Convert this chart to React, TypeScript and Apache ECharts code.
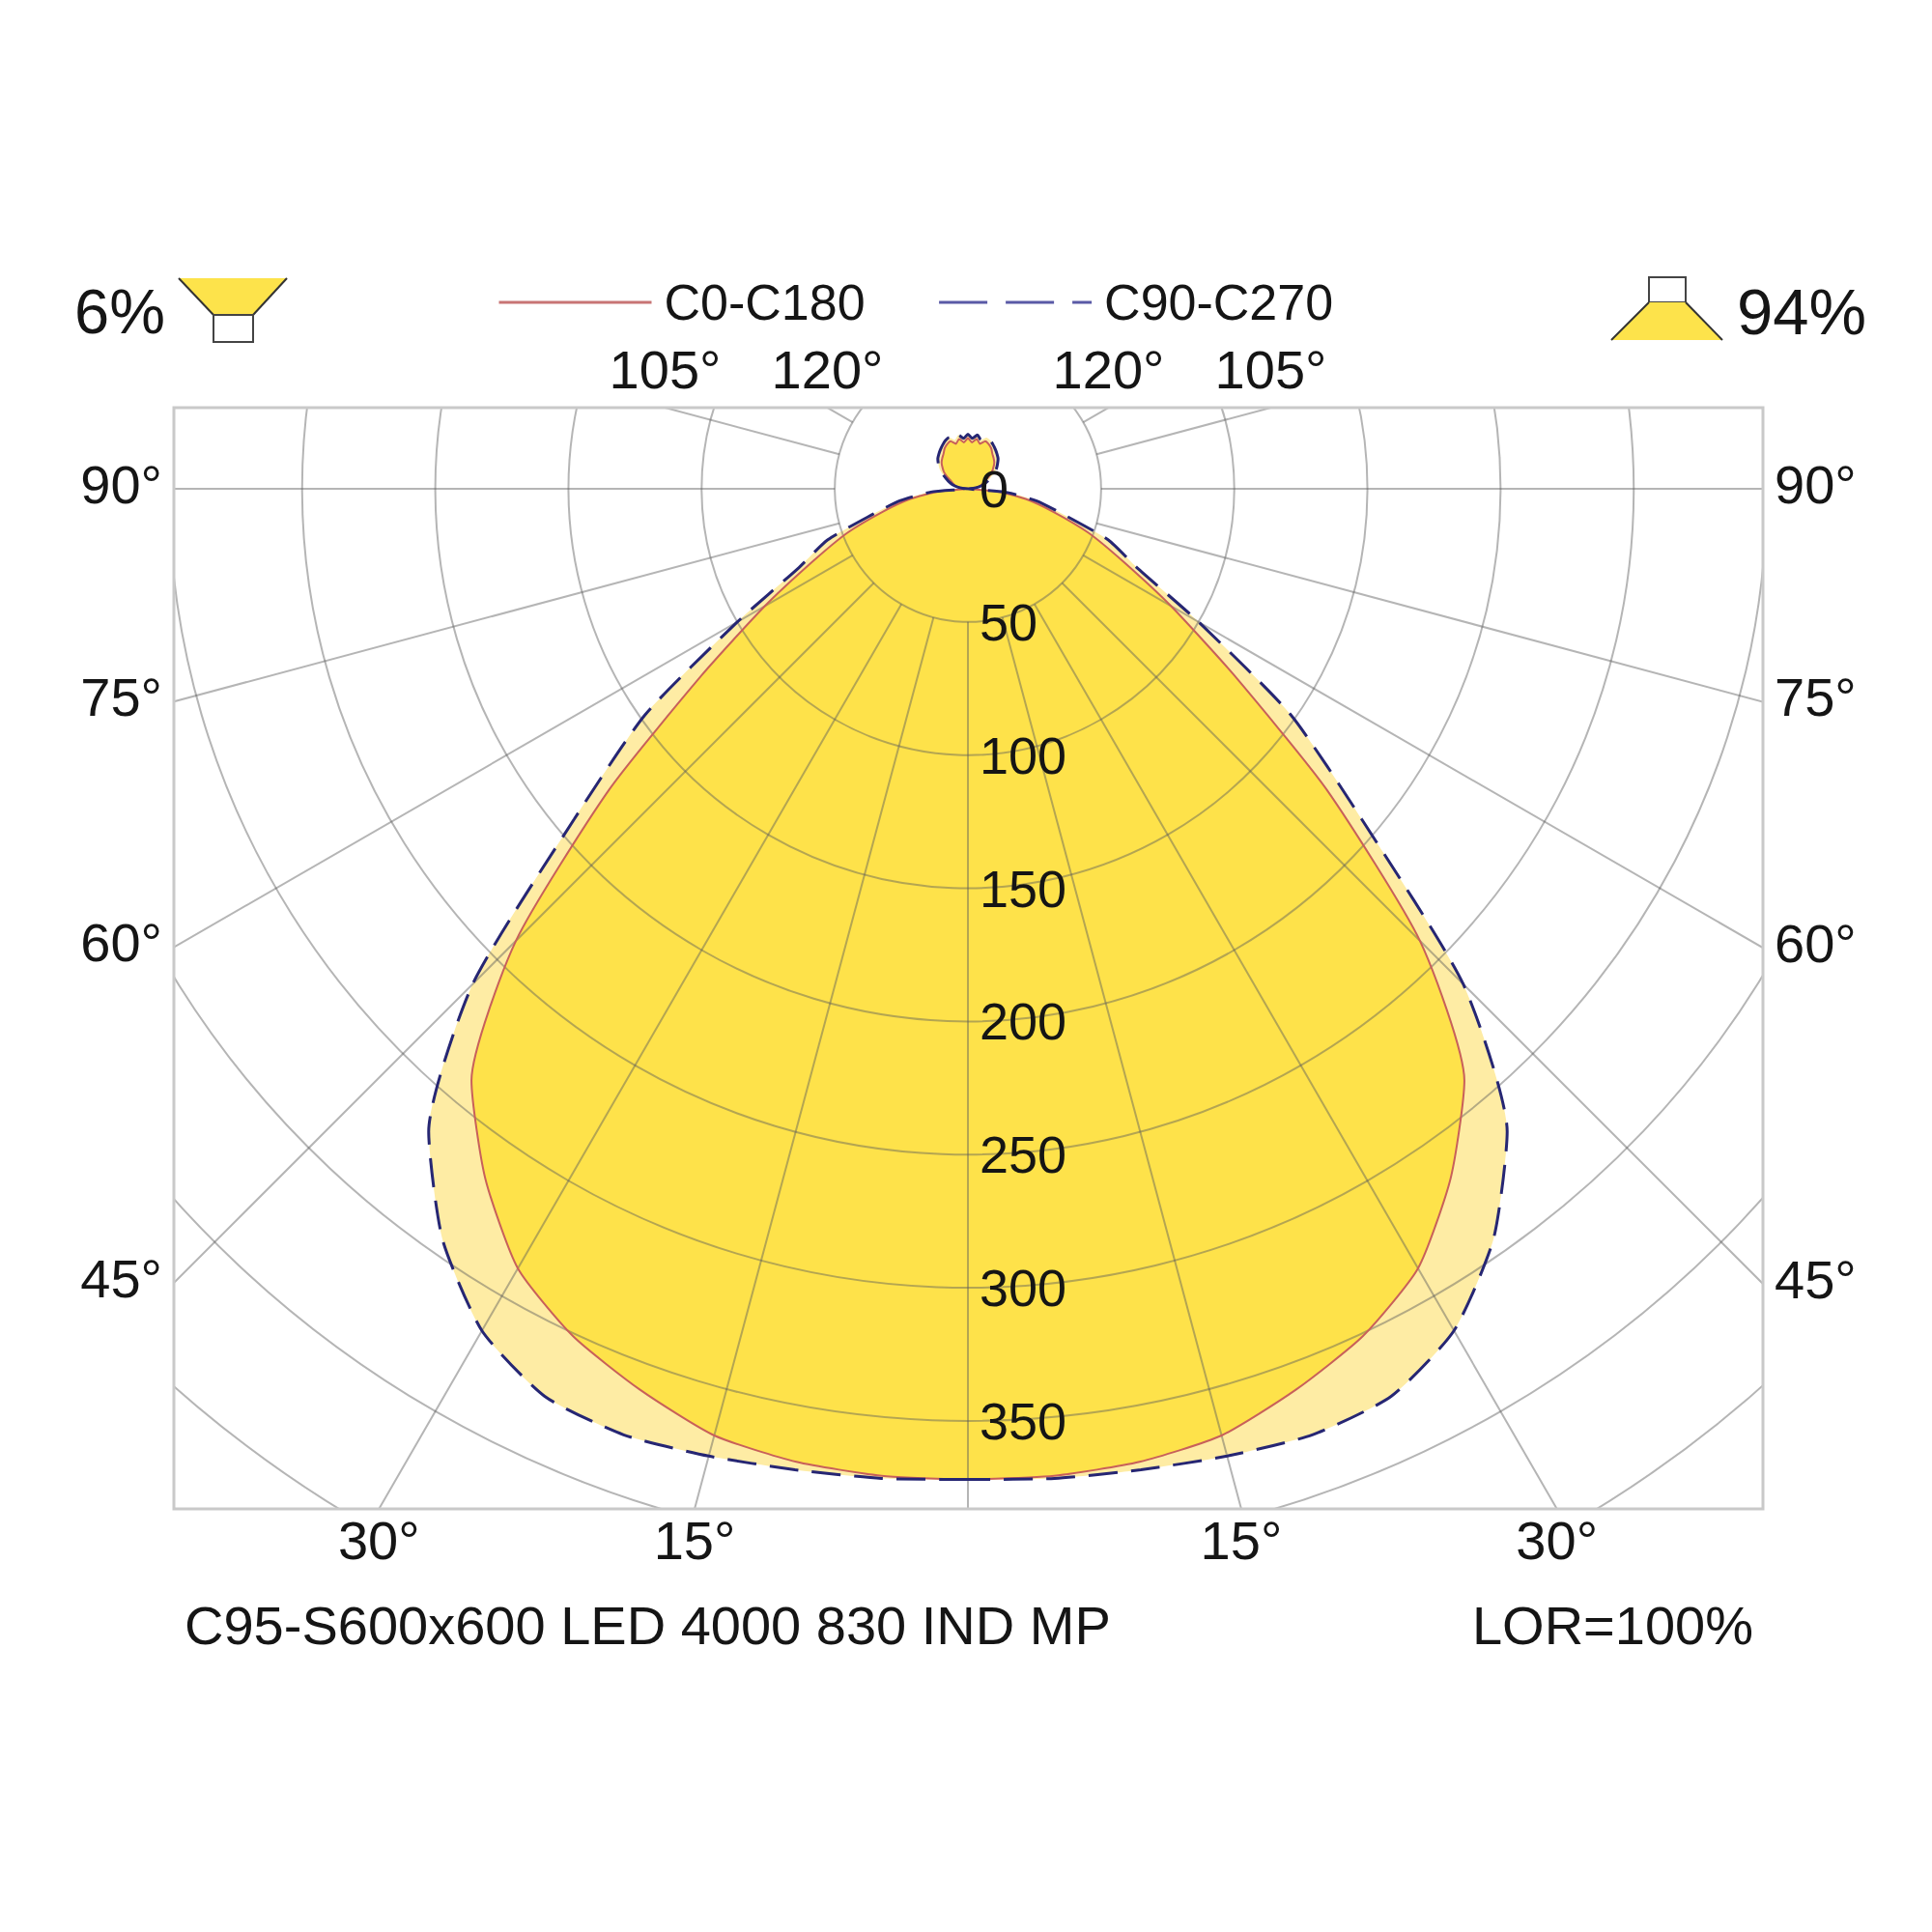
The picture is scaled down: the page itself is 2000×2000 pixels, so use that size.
import React, { useEffect, useRef } from 'react';
import * as echarts from 'echarts';

// gamma angles (deg from nadir) for one half of a C-plane, mirrored for the other half
const gammaAngles = [
  0, 5, 10, 15, 20, 25, 30, 35, 40, 45, 50, 55, 60, 65, 70, 75, 80, 85, 90,
  95, 100, 105, 110, 115, 120, 125, 130, 135, 140, 145, 150, 155, 160, 165, 170, 175, 180,
];

// cd/klm
const c0c180 = [
  372, 372, 371, 368, 360, 351, 338, 316, 290, 240, 176, 122, 88, 64, 48, 33, 22, 11, 0,
  2, 4, 5, 6, 7, 9, 11, 12.5, 14, 15, 16, 17.5, 18.5, 19, 17.5, 19, 17.5, 19,
];
const c90c270 = [
  372, 373, 374, 376, 378, 376, 365, 344, 315, 263, 193, 148, 100, 70, 56, 37, 26, 14, 0,
  2, 4, 6, 7.5, 9, 11, 13, 14.5, 16, 17, 18, 19, 20, 20.5, 19, 20.5, 19, 20.5,
];

const radiusMax = 500;
const radiusStep = 50;
const radiusLabelMax = 350;
const angleStep = 15;
const angleLabels = [15, 30, 45, 60, 75, 90, 105, 120];

const seriesNames = ['C0-C180', 'C90-C270'];
const upwardShare = '6%';
const downwardShare = '94%';
const luminaireName = 'C95-S600x600 LED 4000 830 IND MP';
const lorText = 'LOR=100%';

const FONT = '"Liberation Sans", Arial, Helvetica, sans-serif';
const TEXT = '#151515';
const GRID = 'rgba(90,90,90,0.45)';
const CX = 1002;
const CY = 506;
const PX_PER_CD = 2.757;
const FRAME = { left: 180, top: 422, right: 1825, bottom: 1562 };

// one plane -> closed outline: left half (a = gamma), right half (a = 360 - gamma)
const toOutline = (vals: number[]) => {
  const pts: number[][] = gammaAngles.map((g, i) => [vals[i], g]);
  for (let i = gammaAngles.length - 2; i >= 0; i--) {
    pts.push([vals[i], 360 - gammaAngles[i]]);
  }
  return pts;
};

const App: React.FC = () => {
  const chartRef = useRef<HTMLDivElement>(null);

  useEffect(() => {
    if (!chartRef.current) return;
    const chart = echarts.init(chartRef.current, null, { renderer: 'svg' });
    const outerR = radiusMax * PX_PER_CD;
    const innerR = radiusStep * PX_PER_CD;

    const staticGraphic: any[] = [
      // white masks keep the polar grid inside the frame
      { type: 'rect', z: 10, silent: true, shape: { x: 0, y: 0, width: 2000, height: FRAME.top }, style: { fill: '#fff' } },
      { type: 'rect', z: 10, silent: true, shape: { x: 0, y: FRAME.bottom, width: 2000, height: 2000 - FRAME.bottom }, style: { fill: '#fff' } },
      { type: 'rect', z: 10, silent: true, shape: { x: 0, y: FRAME.top, width: FRAME.left, height: FRAME.bottom - FRAME.top }, style: { fill: '#fff' } },
      { type: 'rect', z: 10, silent: true, shape: { x: FRAME.right, y: FRAME.top, width: 2000 - FRAME.right, height: FRAME.bottom - FRAME.top }, style: { fill: '#fff' } },
      {
        type: 'rect', z: 11, silent: true,
        shape: { x: FRAME.left, y: FRAME.top, width: FRAME.right - FRAME.left, height: FRAME.bottom - FRAME.top },
        style: { fill: 'none', stroke: '#c9c9c9', lineWidth: 3 },
      },
      // upward light icon
      { type: 'polygon', z: 12, shape: { points: [[185, 288], [297, 288], [262, 326], [221, 326]] }, style: { fill: '#fde34b' } },
      { type: 'polyline', z: 12, shape: { points: [[185, 288], [221, 326]] }, style: { stroke: '#333', lineWidth: 2 } },
      { type: 'polyline', z: 12, shape: { points: [[297, 288], [262, 326]] }, style: { stroke: '#333', lineWidth: 2 } },
      { type: 'rect', z: 12, shape: { x: 221, y: 326, width: 41, height: 28 }, style: { fill: '#fff', stroke: '#444', lineWidth: 2 } },
      // downward light icon
      { type: 'rect', z: 12, shape: { x: 1707, y: 287, width: 38, height: 26 }, style: { fill: '#fff', stroke: '#444', lineWidth: 2 } },
      { type: 'polygon', z: 12, shape: { points: [[1707, 313], [1745, 313], [1783, 352], [1668, 352]] }, style: { fill: '#fde34b' } },
      { type: 'polyline', z: 12, shape: { points: [[1707, 313], [1668, 352]] }, style: { stroke: '#333', lineWidth: 2 } },
      { type: 'polyline', z: 12, shape: { points: [[1745, 313], [1783, 352]] }, style: { stroke: '#333', lineWidth: 2 } },
      // texts
      { type: 'text', z: 12, x: 77, y: 322, style: { text: upwardShare, font: `65px ${FONT}`, fill: TEXT, align: 'left', verticalAlign: 'middle' } },
      { type: 'text', z: 12, x: 1798, y: 322, style: { text: downwardShare, font: `67px ${FONT}`, fill: TEXT, align: 'left', verticalAlign: 'middle' } },
      { type: 'text', z: 12, x: 191, y: 1682, style: { text: luminaireName, font: `56px ${FONT}`, fill: TEXT, align: 'left', verticalAlign: 'middle' } },
      { type: 'text', z: 12, x: 1815, y: 1682, style: { text: lorText, font: `56px ${FONT}`, fill: TEXT, align: 'right', verticalAlign: 'middle' } },
    ];

    const lineBase = { type: 'line', coordinateSystem: 'polar', polarIndex: 1, symbol: 'none', smooth: 0.2 };

    const option: any = {
      animation: false,
      backgroundColor: '#fff',
      textStyle: { fontFamily: FONT },
      legend: {
        data: [
          { name: seriesNames[0], lineStyle: { color: '#c87474', width: 3 } },
          { name: seriesNames[1], lineStyle: { color: '#5a5aa6', width: 3, type: [50, 19] } },
        ],
        left: 510,
        top: 282,
        itemWidth: 158,
        itemHeight: 20,
        itemGap: 75,
        selectedMode: false,
        z: 20,
        itemStyle: { opacity: 0 },
        textStyle: { fontSize: 52, color: TEXT, fontFamily: FONT, padding: [0, 0, 0, 8] },
      },
      polar: [
        { center: [CX, CY], radius: [innerR, outerR] },
        { center: [CX, CY], radius: [0, outerR] },
      ],
      angleAxis: [
        {
          polarIndex: 0, type: 'value', min: 0, max: 360, interval: angleStep,
          startAngle: 270, clockwise: true, z: 3,
          axisLine: { show: false }, axisTick: { show: false }, axisLabel: { show: false },
          splitLine: { show: true, lineStyle: { color: GRID, width: 2 } },
        },
        { polarIndex: 1, type: 'value', min: 0, max: 360, startAngle: 270, clockwise: true, show: false },
      ],
      radiusAxis: [
        {
          polarIndex: 0, type: 'value', min: radiusStep, max: radiusMax, interval: radiusStep, z: 3,
          axisLine: { show: false }, axisTick: { show: false }, axisLabel: { show: false },
          splitLine: { show: true, lineStyle: { color: GRID, width: 2 } },
        },
        {
          polarIndex: 1, type: 'value', min: 0, max: radiusMax, interval: radiusStep, z: 5,
          axisLine: { show: false }, axisTick: { show: false }, splitLine: { show: false },
          axisLabel: {
            fontSize: 54, margin: 12, color: TEXT, fontFamily: FONT, padding: [0, 0, 14, 0],
            formatter: (v: number) => (v <= radiusLabelMax ? String(v) : ''),
          },
        },
      ],
      series: [
        {
          ...lineBase, name: 'C90 fill', data: toOutline(c90c270), silent: true, z: 1,
          lineStyle: { opacity: 0 }, areaStyle: { color: '#feeca4', opacity: 1 },
        },
        {
          ...lineBase, name: 'C0 fill', data: toOutline(c0c180), silent: true, z: 1,
          lineStyle: { opacity: 0 }, areaStyle: { color: '#fee24a', opacity: 1 },
        },
        {
          ...lineBase, name: seriesNames[0], data: toOutline(c0c180), z: 4, color: '#c8605a',
          lineStyle: { color: '#c8605a', width: 2 },
        },
        {
          ...lineBase, name: seriesNames[1], data: toOutline(c90c270), z: 4, color: '#262673',
          lineStyle: { color: '#262673', width: 3, type: [30, 14] },
        },
      ],
      graphic: staticGraphic,
    };

    chart.setOption(option);

    // angle labels sit where each 15° ray leaves the frame
    const c = chart.convertToPixel({ polarIndex: 1 } as any, [0, 0]) as number[];
    const labelEls: any[] = [];
    angleLabels.forEach((g) => {
      [g, 360 - g].forEach((a) => {
        const p = chart.convertToPixel({ polarIndex: 1 } as any, [100, a]) as number[];
        const dx = p[0] - c[0];
        const dy = p[1] - c[1];
        let t = Infinity;
        let edge = '';
        const eps = 1e-6;
        if (dx < -eps) { const tt = (FRAME.left - c[0]) / dx; if (tt < t) { t = tt; edge = 'left'; } }
        if (dx > eps) { const tt = (FRAME.right - c[0]) / dx; if (tt < t) { t = tt; edge = 'right'; } }
        if (dy > eps) { const tt = (FRAME.bottom - c[1]) / dy; if (tt < t) { t = tt; edge = 'bottom'; } }
        if (dy < -eps) { const tt = (FRAME.top - c[1]) / dy; if (tt < t) { t = tt; edge = 'top'; } }
        const hx = c[0] + dx * t;
        const hy = c[1] + dy * t;
        let x = hx;
        let y = hy;
        let align = 'center';
        if (edge === 'left') { x = hx - 12; y = hy - 5; align = 'right'; }
        else if (edge === 'right') { x = hx + 12; y = hy - 5; align = 'left'; }
        else if (edge === 'bottom') { y = FRAME.bottom + 32; }
        else { y = FRAME.top - 40; }
        labelEls.push({
          type: 'text', z: 12, x, y,
          style: { text: `${g}°`, font: `56px ${FONT}`, fill: TEXT, align, verticalAlign: 'middle' },
        });
      });
    });

    chart.setOption({ graphic: [...staticGraphic, ...labelEls] });

    return () => chart.dispose();
  }, []);

  return (
    <div
      ref={chartRef}
      style={{ position: 'absolute', left: 0, top: 0, width: '2000px', height: '2000px' }}
    />
  );
};

export default App;
